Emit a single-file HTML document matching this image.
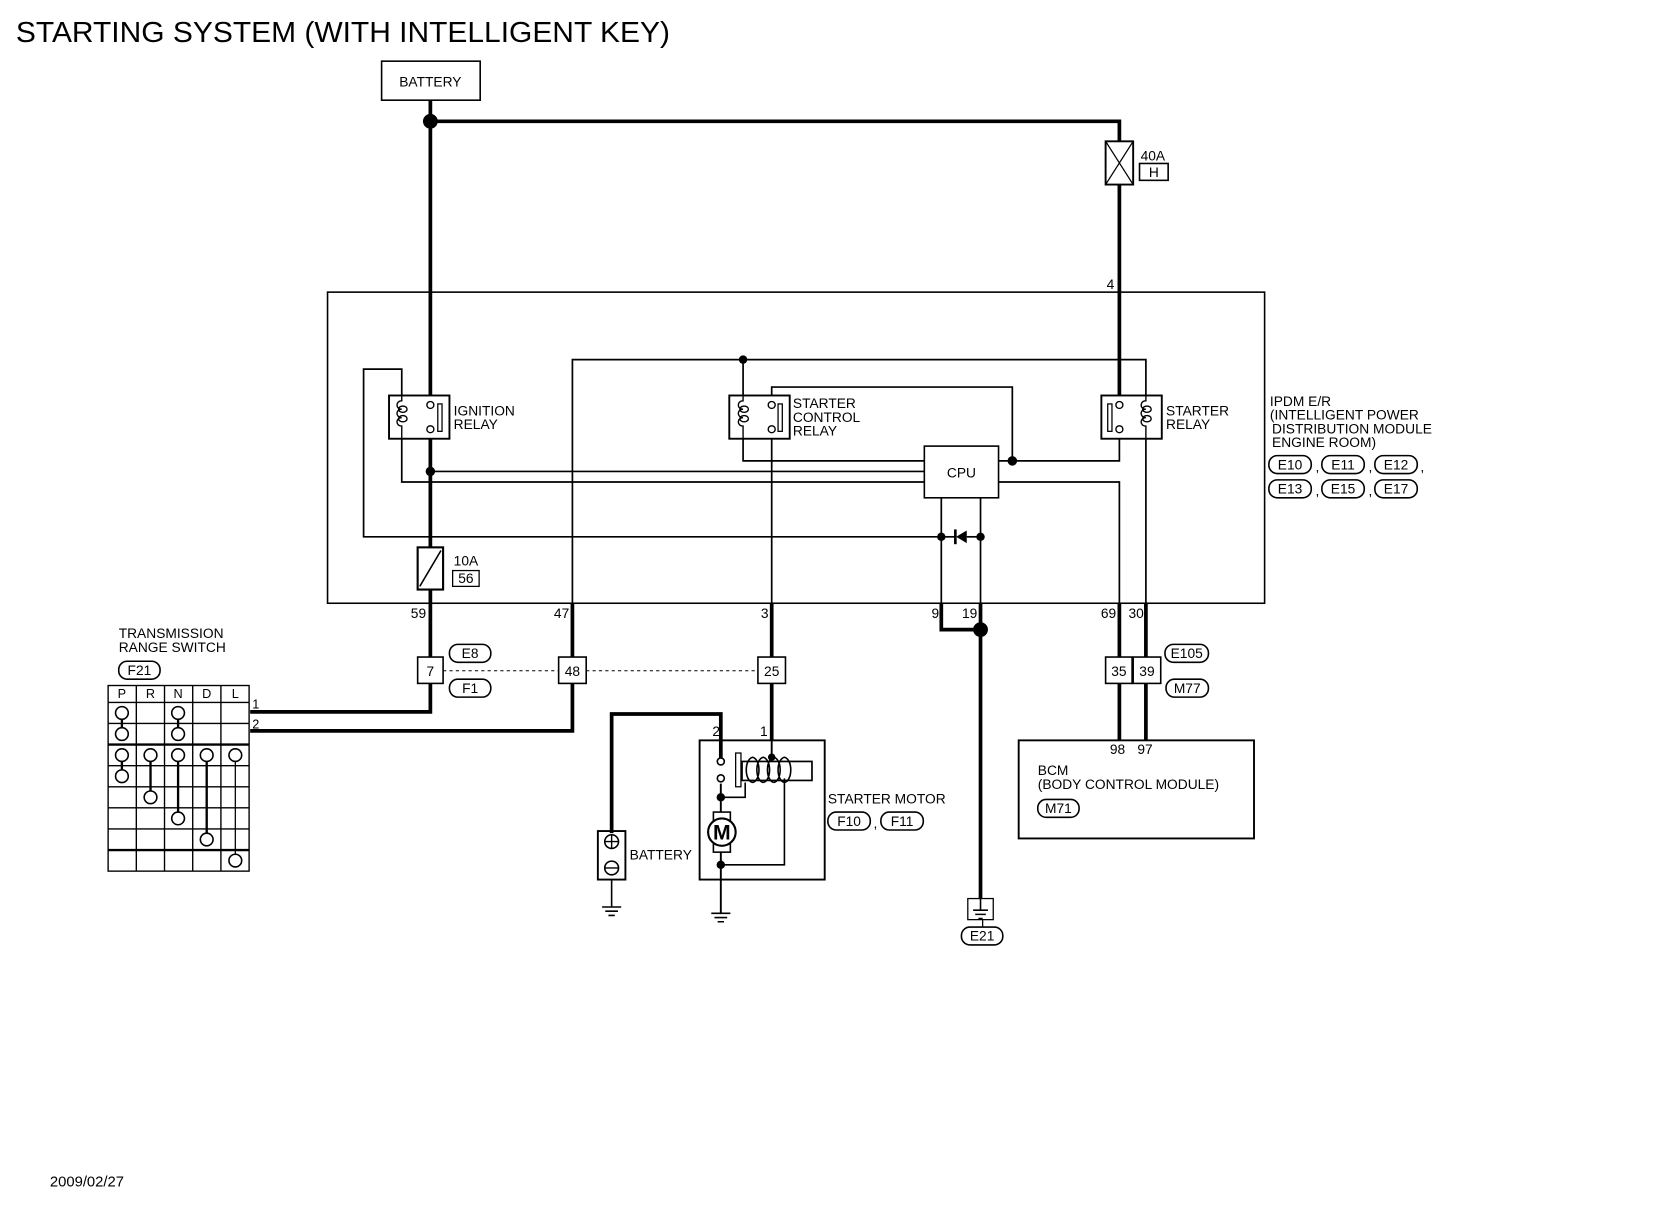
<!DOCTYPE html>
<html><head><meta charset="utf-8"><style>
html,body{margin:0;padding:0;background:#fff;}
svg{display:block;}
text{font-family:"Liberation Sans",sans-serif;fill:#000;}
</style></head><body>
<svg width="1660" height="1216" viewBox="0 0 1566 1153" preserveAspectRatio="none" xmlns="http://www.w3.org/2000/svg">
<text x="15" y="40" font-size="27" textLength="617" lengthAdjust="spacingAndGlyphs">STARTING SYSTEM (WITH INTELLIGENT KEY)</text>
<g fill="none" stroke="#000">
<rect x="360" y="58" width="93" height="37" stroke-width="1.5"/>
<rect x="309" y="277" width="884" height="295" stroke-width="1.5"/>
<g stroke-width="3.5">
<path d="M406,95 V375"/>
<path d="M406,416 V519"/>
<path d="M406,559 V675 H236"/>
<path d="M406,115 H1056 V134"/>
<path d="M1056,175 V375"/>
<path d="M540,572 V693 H236"/>
<path d="M728,572 V702"/>
<path d="M888,572 V597 H925"/>
<path d="M925,572 V852"/>
<path d="M1056,572 V702"/>
<path d="M1081,572 V702"/>
<path d="M680,722 V677 H577 V790"/>
</g>
<g stroke-width="1.6">
<path d="M540,572 V341 H1081 V375"/>
<path d="M701,341 V375"/>
<path d="M701,416 V437 H872"/>
<path d="M728,375 V367 H955 V437"/>
<path d="M728,416 V572"/>
<path d="M942,437 H1056 V416"/>
<path d="M942,457 H1056 V572"/>
<path d="M1081,416 V572"/>
<path d="M406,447 H872"/>
<path d="M379,416 V457 H872"/>
<path d="M379,375 V350 H343 V509 H888"/>
<path d="M888,472 V572"/>
<path d="M925,472 V572"/>
<path d="M888,509 H902"/><path d="M912,509 H925"/>
</g>
<rect x="367" y="375" width="57" height="41" stroke-width="1.8"/>
<rect x="413" y="383" width="4" height="26" stroke-width="1.2"/>
<rect x="688" y="375" width="57" height="41" stroke-width="1.8"/>
<rect x="734" y="383" width="4" height="26" stroke-width="1.2"/>
<rect x="1039" y="375" width="57" height="41" stroke-width="1.8"/>
<rect x="1045" y="383" width="4" height="26" stroke-width="1.2"/>
<rect x="872" y="423" width="70" height="49" stroke-width="1.5" fill="#fff"/>
<rect x="1043" y="134" width="26" height="41" stroke-width="1.8" fill="#fff"/>
<path d="M1043,134 L1069,175 M1069,134 L1043,175" stroke-width="1.2"/>
<rect x="1075" y="155" width="27" height="16" stroke-width="1.5"/>
<rect x="394" y="519" width="24" height="40" stroke-width="2" fill="#fff"/>
<path d="M396,556 L416,522" stroke-width="1.5"/>
<rect x="427" y="541" width="25" height="15" stroke-width="1.2"/>
<g stroke-width="1.5" fill="#fff">
<rect x="394" y="623" width="24" height="25"/>
<rect x="527" y="623" width="26" height="25"/>
<rect x="715" y="623" width="26" height="25"/>
<rect x="1043" y="623" width="25" height="25"/>
<rect x="1069" y="623" width="26" height="25"/>
</g>
<path d="M418,636 H527 M553,636 H715" stroke-width="1" stroke-dasharray="3,3"/>
<g stroke-width="1.5">
<rect x="424" y="611" width="39" height="17" rx="8"/>
<rect x="424" y="644" width="39" height="17" rx="8"/>
<rect x="1099" y="611" width="41" height="17" rx="8"/>
<rect x="1100" y="644" width="40" height="17" rx="8"/>
<rect x="112" y="627" width="39" height="17" rx="8"/>
<rect x="781" y="770" width="40" height="17" rx="8"/>
<rect x="831" y="770" width="40" height="17" rx="8"/>
<rect x="979" y="758" width="39" height="17" rx="8"/>
<rect x="907" y="879" width="39" height="17" rx="8"/>
<rect x="1197" y="432" width="40" height="17" rx="8"/>
<rect x="1247" y="432" width="40" height="17" rx="8"/>
<rect x="1297" y="432" width="40" height="17" rx="8"/>
<rect x="1197" y="455" width="40" height="17" rx="8"/>
<rect x="1247" y="455" width="40" height="17" rx="8"/>
<rect x="1297" y="455" width="40" height="17" rx="8"/>
</g>
<rect x="961" y="702" width="222" height="93" stroke-width="1.8"/>
<rect x="660" y="702" width="118" height="132" stroke-width="1.8"/>
<rect x="694" y="714" width="5" height="32" stroke-width="1.2"/>
<rect x="700" y="722" width="66" height="18" stroke-width="1.6"/>
<path d="M710,742 c-8,-2 -8,-22 0,-24 c8,2 8,22 0,24 M720,742 c-8,-2 -8,-22 0,-24 c8,2 8,22 0,24 M730,742 c-8,-2 -8,-22 0,-24 c8,2 8,22 0,24 M740,742 c-8,-2 -8,-22 0,-24 c8,2 8,22 0,24" stroke-width="1.5"/>
<path d="M728,702 V718" stroke-width="1.8"/>
<path d="M680,743 V770 M680,808 V866" stroke-width="1.8"/>
<path d="M680,756 H703 V742" stroke-width="1.5"/>
<path d="M680,820 H740 V738" stroke-width="1.5"/>
<rect x="673" y="770" width="16" height="38" stroke-width="1.5"/>
<circle cx="681" cy="789" r="13" fill="#fff" stroke-width="2"/>
<circle cx="680" cy="722" r="3.3" fill="#fff" stroke-width="1.5"/>
<circle cx="680" cy="738" r="3.3" fill="#fff" stroke-width="1.5"/>
<rect x="564" y="788" width="26" height="46" stroke-width="1.8"/>
<circle cx="577" cy="798" r="6.5" stroke-width="1.5"/>
<path d="M577,792 V804 M571,798 H583" stroke-width="1.3"/>
<circle cx="577" cy="823" r="6.5" stroke-width="1.5"/>
<path d="M571,823 H583" stroke-width="1.3"/>
<path d="M577,834 V860" stroke-width="1.5"/>
<path d="M568,860 H586 M571,864 H583 M574,868 H580" stroke-width="1.5"/>
<path d="M671,866 H689 M674,870 H686 M677,874 H683" stroke-width="1.5"/>
<rect x="913" y="852" width="24" height="20" stroke-width="1.2" fill="#fff"/>
<path d="M918,863 H932 M920,867 H930 M923,871 H927 M925,852 V863" stroke-width="1.5"/>
<path d="M927,872 V879" stroke-width="1.2"/>
<g fill="#fff" stroke-width="1.3">
<circle cx="406" cy="384" r="3.3"/><circle cx="406" cy="407" r="3.3"/>
<circle cx="728" cy="384" r="3.3"/><circle cx="728" cy="407" r="3.3"/>
<circle cx="1056" cy="384" r="3.3"/><circle cx="1056" cy="407" r="3.3"/>
</g>
<g stroke-width="1.3">
<path d="M379,375 V380 c-6,0 -6,8 0,8 c-6,0 -6,8 0,8 c-6,0 -6,8 0,8 V416"/>
<ellipse cx="380" cy="388" rx="4" ry="3"/><ellipse cx="380" cy="397" rx="4" ry="3"/>
<path d="M701,375 V380 c-6,0 -6,8 0,8 c-6,0 -6,8 0,8 c-6,0 -6,8 0,8 V416"/>
<ellipse cx="702" cy="388" rx="4" ry="3"/><ellipse cx="702" cy="397" rx="4" ry="3"/>
<path d="M1081,375 V380 c-6,0 -6,8 0,8 c-6,0 -6,8 0,8 c-6,0 -6,8 0,8 V416"/>
<ellipse cx="1082" cy="388" rx="4" ry="3"/><ellipse cx="1082" cy="397" rx="4" ry="3"/>
</g>
<g stroke-width="1.3">
<rect x="102" y="650" width="133" height="176"/>
<path d="M128.6,650 V826 M155.2,650 V826 M181.8,650 V826 M208.4,650 V826"/>
<path d="M102,666 H235 M102,686 H235 M102,726 H235 M102,746 H235 M102,766 H235 M102,786 H235"/>
</g>
<path d="M102,706 H235 M102,806 H235" stroke-width="2.2"/>
<path d="M115,676 V696 M168,676 V696 M115,716 V736 M142,716 V756 M168,716 V776 M195,716 V796" stroke-width="2.2"/>
<path d="M222,716 V816" stroke-width="1.2"/>
<g fill="#fff" stroke-width="1.5">
<circle cx="115" cy="676" r="6"/><circle cx="168" cy="676" r="6"/>
<circle cx="115" cy="696" r="6"/><circle cx="168" cy="696" r="6"/>
<circle cx="115" cy="716" r="6"/><circle cx="142" cy="716" r="6"/><circle cx="168" cy="716" r="6"/><circle cx="195" cy="716" r="6"/><circle cx="222" cy="716" r="6"/>
<circle cx="115" cy="736" r="6"/><circle cx="142" cy="756" r="6"/><circle cx="168" cy="776" r="6"/><circle cx="195" cy="796" r="6"/><circle cx="222" cy="816" r="6"/>
</g>
</g>
<g fill="#000">
<circle cx="406" cy="115" r="7"/>
<circle cx="406" cy="447" r="4.5"/>
<circle cx="701" cy="341" r="4"/>
<circle cx="955" cy="437" r="4.5"/>
<circle cx="888" cy="509" r="4"/>
<circle cx="925" cy="509" r="4"/>
<circle cx="925" cy="597" r="7"/>
<circle cx="680" cy="756" r="4"/>
<circle cx="680" cy="820" r="4"/>
<circle cx="728" cy="718" r="3.5"/>
<path d="M902,509 L912,503 L912,515 Z"/>
<rect x="900" y="502" width="2.5" height="14"/>
</g>
<g font-size="13">
<text x="406" y="82" text-anchor="middle">BATTERY</text>
<text x="1076" y="152">40A</text>
<text x="1088.5" y="168" text-anchor="middle">H</text>
<text x="1044" y="274">4</text>
<text x="428" y="394">IGNITION</text><text x="428" y="407">RELAY</text>
<text x="748" y="387">STARTER</text><text x="748" y="400">CONTROL</text><text x="748" y="413">RELAY</text>
<text x="1100" y="394">STARTER</text><text x="1100" y="407">RELAY</text>
<text x="907" y="453" text-anchor="middle">CPU</text>
<text x="428" y="536">10A</text>
<text x="439.5" y="553" text-anchor="middle">56</text>
<text x="1198" y="385">IPDM E/R</text>
<text x="1198" y="398">(INTELLIGENT POWER</text>
<text x="1200" y="411">DISTRIBUTION MODULE</text>
<text x="1200" y="424">ENGINE ROOM)</text>
<text x="1217" y="445" text-anchor="middle">E10</text><text x="1241" y="447">,</text>
<text x="1267" y="445" text-anchor="middle">E11</text><text x="1291" y="447">,</text>
<text x="1317" y="445" text-anchor="middle">E12</text><text x="1340" y="447">,</text>
<text x="1217" y="468" text-anchor="middle">E13</text><text x="1241" y="470">,</text>
<text x="1267" y="468" text-anchor="middle">E15</text><text x="1291" y="470">,</text>
<text x="1317" y="468" text-anchor="middle">E17</text>
<text x="402" y="586" text-anchor="end">59</text>
<text x="537" y="586" text-anchor="end">47</text>
<text x="725" y="586" text-anchor="end">3</text>
<text x="886" y="586" text-anchor="end">9</text>
<text x="922" y="586" text-anchor="end">19</text>
<text x="1053" y="586" text-anchor="end">69</text>
<text x="1079" y="586" text-anchor="end">30</text>
<text x="406" y="641" text-anchor="middle">7</text>
<text x="540" y="641" text-anchor="middle">48</text>
<text x="728" y="641" text-anchor="middle">25</text>
<text x="1055.5" y="641" text-anchor="middle">35</text>
<text x="1082" y="641" text-anchor="middle">39</text>
<text x="443.5" y="624" text-anchor="middle">E8</text>
<text x="443.5" y="657" text-anchor="middle">F1</text>
<text x="1119.5" y="624" text-anchor="middle">E105</text>
<text x="1120" y="657" text-anchor="middle">M77</text>
<text x="112" y="605">TRANSMISSION</text>
<text x="112" y="618">RANGE SWITCH</text>
<text x="131.5" y="640" text-anchor="middle">F21</text>
<text x="115" y="662" text-anchor="middle" font-size="12">P</text>
<text x="142" y="662" text-anchor="middle" font-size="12">R</text>
<text x="168" y="662" text-anchor="middle" font-size="12">N</text>
<text x="195" y="662" text-anchor="middle" font-size="12">D</text>
<text x="222" y="662" text-anchor="middle" font-size="12">L</text>
<text x="238" y="672" font-size="12">1</text>
<text x="238" y="691" font-size="12">2</text>
<text x="672" y="698">2</text>
<text x="717" y="698">1</text>
<text x="781" y="762">STARTER MOTOR</text>
<text x="801" y="783" text-anchor="middle">F10</text><text x="824" y="785">,</text>
<text x="851" y="783" text-anchor="middle">F11</text>
<text x="594" y="815">BATTERY</text>
<text x="1047" y="715">98</text>
<text x="1073" y="715">97</text>
<text x="979" y="735">BCM</text>
<text x="979" y="748">(BODY CONTROL MODULE)</text>
<text x="998.5" y="771" text-anchor="middle">M71</text>
<text x="926.5" y="892" text-anchor="middle">E21</text>
<text x="681" y="796" text-anchor="middle" font-size="20" font-weight="bold">M</text>
<text x="47" y="1125" font-size="14">2009/02/27</text>
</g>
</svg>
</body></html>
